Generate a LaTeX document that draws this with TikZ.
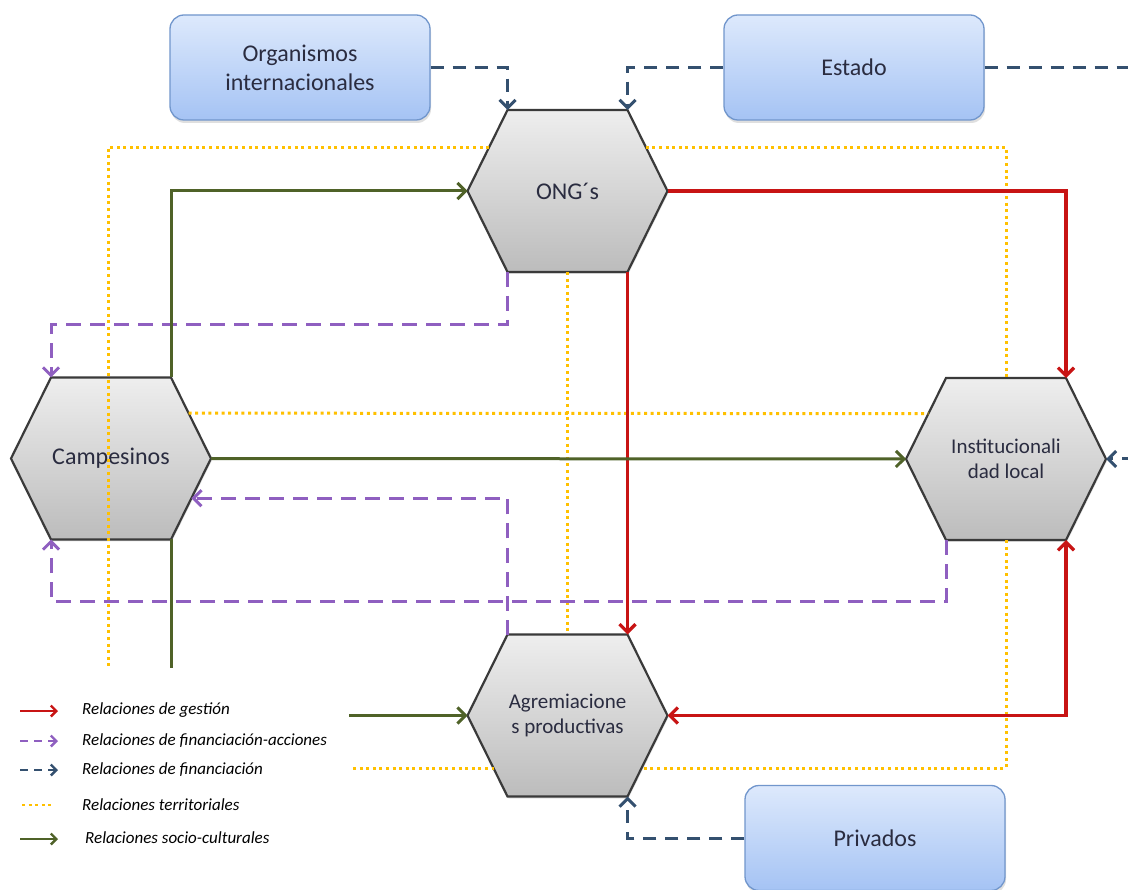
\documentclass[tikz,border=0pt]{standalone}
\usepackage{fontspec}
\setmainfont{Carlito}
\usetikzlibrary{arrows.meta,calc,shadows}
\definecolor{finblue}{HTML}{34506F}
\definecolor{finpurple}{HTML}{8F5FC0}
\definecolor{gesred}{HTML}{C81414}
\definecolor{socgreen}{HTML}{4F6228}
\definecolor{teryellow}{HTML}{FFC000}
\definecolor{boxborder}{HTML}{7196CC}
\definecolor{boxtop}{HTML}{DDE9FC}
\definecolor{boxbot}{HTML}{A5C3F4}
\definecolor{hexborder}{HTML}{3A3A3A}
\definecolor{hextop}{HTML}{EEEEEE}
\definecolor{hexbot}{HTML}{BCBCBC}
\definecolor{labelc}{HTML}{2A2C40}
\tikzset{
  tipbig/.style={-{Straight Barb[length=8pt,width=16pt]}},
  tipsmall/.style={-{Straight Barb[length=5.5pt,width=11pt]}},
  boxst/.style={rounded corners=14pt, draw=boxborder, line width=1.3pt,
    top color=boxtop, bottom color=boxbot, minimum width=260pt,
    minimum height=105pt, align=center, text=labelc,
    font=\fontsize{24}{29}\selectfont,
    drop shadow={shadow xshift=1pt, shadow yshift=-3pt, opacity=0.25}},
  hexfill/.style={draw=hexborder, line width=2.2pt, top color=hextop,
    bottom color=hexbot,
    drop shadow={shadow xshift=1pt, shadow yshift=-2pt, opacity=0.2}},
  hextext/.style={align=center, text=labelc, inner sep=0pt},
  conn/.style={line width=3pt},
  fin/.style={conn, draw=finblue, dash pattern=on 13pt off 9pt},
  finac/.style={conn, draw=finpurple, dash pattern=on 15pt off 9pt},
  ges/.style={line width=3.2pt, draw=gesred},
  soc/.style={conn, draw=socgreen},
  ter/.style={line width=3pt, draw=teryellow, dash pattern=on 3pt off 3.6pt},
  legtext/.style={anchor=west, inner sep=0pt, font=\fontsize{17}{20}\selectfont\itshape, text=black}
}
\newcommand\hexnode[5]{%
  \coordinate (#1-w) at (#2-100,#3);
  \coordinate (#1-e) at (#2+100,#3);
  \coordinate (#1-tl) at (#2-60,#3-81);
  \coordinate (#1-tr) at (#2+60,#3-81);
  \coordinate (#1-bl) at (#2-60,#3+81);
  \coordinate (#1-br) at (#2+60,#3+81);
  \coordinate (#1-n) at (#2,#3-81);
  \coordinate (#1-s) at (#2,#3+81);
  \path[hexfill] (#1-w) -- (#1-tl) -- (#1-tr) -- (#1-e) -- (#1-br) -- (#1-bl) -- cycle;
  \node[hextext, font=#5] (#1) at (#2,#3) {#4};
}
\begin{document}
\begin{tikzpicture}[x=1pt,y=-1pt]
\useasboundingbox (0,0) rectangle (1128,890);
\clip (0,0) rectangle (1128,890);
\fill[white] (0,0) rectangle (1128,890);

% boxes
\node[boxst] (org) at (300,67.5) {Organismos\\internacionales};
\node[boxst] (est) at (854,67.5) {Estado};
\node[boxst] (priv) at (875,838) {Privados};

% hexagons
\hexnode{ong}{567.5}{191}{ONG´s}{\fontsize{24}{29}\selectfont}
\hexnode{cam}{111}{458.5}{Campesinos}{\fontsize{24}{29}\selectfont}
\hexnode{ins}{1006}{459}{Institucionali\\dad local}{\fontsize{21}{25}\selectfont}
\hexnode{agr}{567.5}{715.5}{Agremiacione\\s productivas}{\fontsize{21}{25}\selectfont}

% edge points
\coordinate (ongl) at ($(ong-w)!0.543!(ong-tl)$);
\coordinate (ongr) at ($(ong-e)!0.543!(ong-tr)$);
\coordinate (agrl) at ($(agr-w)!0.65!(agr-bl)$);
\coordinate (agrr) at ($(agr-e)!0.65!(agr-br)$);
\coordinate (camu) at ($(cam-e)!0.56!(cam-tr)$);
\coordinate (insu) at ($(ins-w)!0.56!(ins-tl)$);
\coordinate (camd) at ($(cam-e)!0.49!(cam-br)$);
\coordinate (yx) at (108,0);
\coordinate (offr) at (1150,67.5);

% territorial (dotted)
\draw[ter] (ongl) -| (agrl -| yx) -- (agrl);
\draw[ter] (ongr) -| (ins-n);
\draw[ter] (ins-s) |- (agrr);
\draw[ter] (camu) -- (insu);
\draw[ter] (ong-s) -- (agr-n);

% financiacion (blue dashed)
\draw[fin, tipbig] (org.east) -| (ong-tl);
\draw[fin, tipbig] (est.west) -| (ong-tr);
\draw[fin, tipbig] (est.east) -- (offr) |- (ins-e);
\draw[fin, tipbig] (priv.west) -| (agr-br);

% financiacion-acciones (purple dashed)
\draw[finac, tipbig] (ong-bl) -- ++(0,53) -| (cam-tl);
\draw[finac, tipbig] (agr-tl) |- (camd);
\draw[finac, tipbig] (ins-bl) -- ++(0,61) -| (cam-bl);

% gestion (red)
\draw[ges, tipbig] (ong-e) -| (ins-tr);
\draw[ges, tipbig] (ong-br) -- (agr-tr);
\draw[ges, {Straight Barb[length=8pt,width=16pt]}-{Straight Barb[length=8pt,width=16pt]}] (agr-e) -| (ins-br);

% socio-culturales (green)
\draw[soc, tipbig] (cam-tr) |- (ong-w);
\draw[soc, tipbig] (cam-e) -- (ins-w);
\draw[soc, tipbig] (cam-br) |- (agr-w);

% legend
\fill[white] (0,668) rectangle (349,878);
\node[legtext] (lg1) at (82,710) {Relaciones de gestión};
\node[legtext] (lg2) at (82,741) {Relaciones de financiación-acciones};
\node[legtext] (lg3) at (82,770) {Relaciones de financiación};
\node[legtext] (lg4) at (82,805) {Relaciones territoriales};
\node[legtext] (lg5) at (85,838) {Relaciones socio-culturales};
\coordinate (la1) at (20,711); \coordinate (lb1) at (58,711);
\coordinate (la2) at (20,741); \coordinate (lb2) at (58,741);
\coordinate (la3) at (20,770); \coordinate (lb3) at (58,770);
\coordinate (la4) at (22,805); \coordinate (lb4) at (55,805);
\coordinate (la5) at (20,839); \coordinate (lb5) at (58,839);
\draw[ges, line width=2.4pt, tipsmall] (la1) -- (lb1);
\draw[finac, line width=2.4pt, dash pattern=on 8pt off 6pt, tipsmall] (la2) -- (lb2);
\draw[fin, line width=2.4pt, dash pattern=on 8pt off 6pt, tipsmall] (la3) -- (lb3);
\draw[ter, line width=2.4pt] (la4) -- (lb4);
\draw[soc, line width=2.4pt, tipsmall] (la5) -- (lb5);
\end{tikzpicture}
\end{document}
